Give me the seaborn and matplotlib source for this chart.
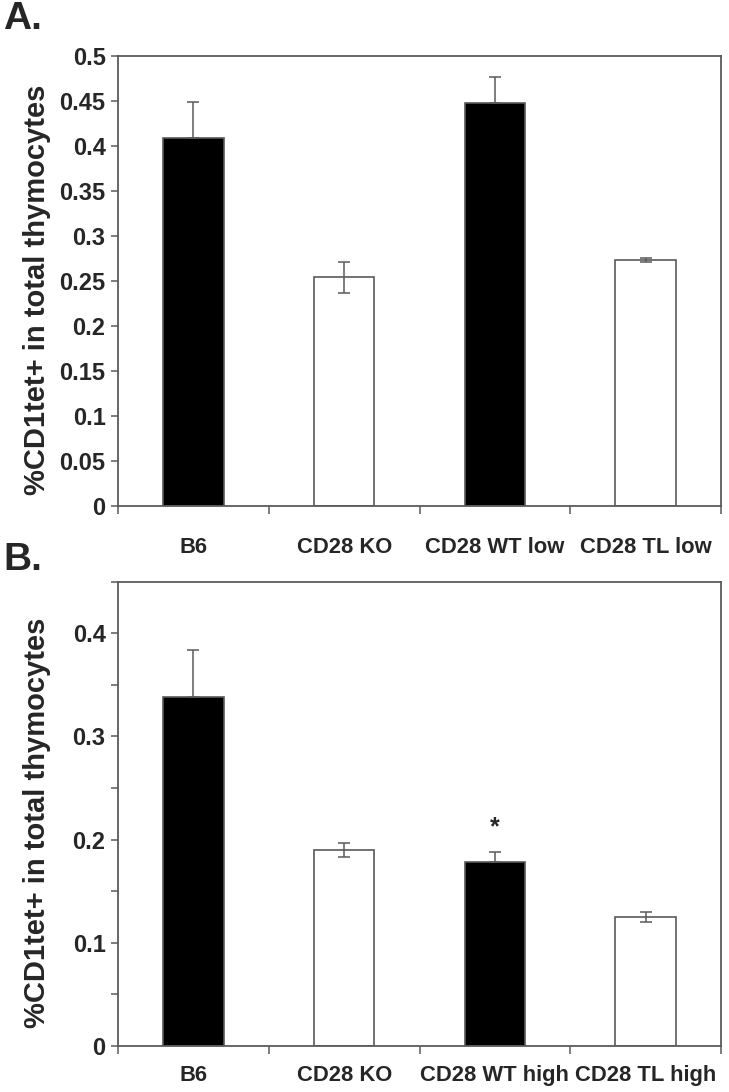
import numpy as np
import pandas as pd
import matplotlib
matplotlib.use("Agg")
import matplotlib.pyplot as plt
import seaborn as sns
from matplotlib.ticker import MultipleLocator, FuncFormatter

# values
groups_a = ["B6", "CD28 KO", "CD28 WT low", "CD28 TL low"]
values_a = [0.408, 0.254, 0.447, 0.273]
errors_a = [0.040, 0.017, 0.029, 0.002]

groups_b = ["B6", "CD28 KO", "CD28 WT high", "CD28 TL high"]
values_b = [0.338, 0.190, 0.178, 0.125]
errors_b = [0.046, 0.007, 0.010, 0.005]

bar_colors = ["black", "white", "black", "white"]
ylabel = "%CD1tet+ in total thymocytes"

sns.set_style("white")
plt.rcParams["font.family"] = ["Liberation Sans", "DejaVu Sans"]
plt.rcParams["font.weight"] = "bold"

edge = "#5a5a5a"


def draw_panel(ax, groups, values, errors, ymax, major, minor=None, label_pad=22):
    df = pd.DataFrame({"group": groups, "value": values})
    sns.barplot(data=df, x="group", y="value", hue="group", palette=bar_colors,
                width=0.4, edgecolor=edge, linewidth=1.2, saturation=1,
                legend=False, ax=ax)
    # black bars hide the lower half of their error bar
    lower = [0 if c == "black" else e for c, e in zip(bar_colors, errors)]
    ax.errorbar(range(len(groups)), values, yerr=[lower, errors], fmt="none",
                ecolor=edge, elinewidth=1.1, capsize=4.5, capthick=1.1, zorder=5)

    ax.set_xlim(-0.5, len(groups) - 0.5)
    ax.set_ylim(0, ymax)
    ax.set_xticks(np.arange(len(groups) + 1) - 0.5)
    ax.set_xticklabels([])
    ax.set_xticks(range(len(groups)), minor=True)
    ax.set_xticklabels(groups, minor=True, fontsize=15.8, fontweight="bold")
    ax.tick_params(axis="x", which="major", direction="out", length=6,
                   width=1.1, color=edge, bottom=True)
    ax.tick_params(axis="x", which="minor", length=0, pad=label_pad)

    ax.yaxis.set_major_locator(MultipleLocator(major))
    if minor:
        ax.yaxis.set_minor_locator(MultipleLocator(minor))
    ax.yaxis.set_major_formatter(FuncFormatter(lambda v, p: f"{v:g}"))
    ax.tick_params(axis="y", which="both", direction="out", length=5,
                   width=1.1, color=edge, left=True, labelsize=17, pad=4)
    for lab in ax.get_yticklabels():
        lab.set_fontweight("bold")

    ax.set_xlabel("")
    ax.set_ylabel(ylabel, fontsize=21, fontweight="bold")
    ax.yaxis.set_label_coords(-0.112, 0.48)
    for sp in ax.spines.values():
        sp.set_color(edge)
        sp.set_linewidth(1.3)
        sp.set_visible(True)


fig = plt.figure(figsize=(7.29, 10.92), dpi=100)
ax_a = fig.add_axes([0.162, 0.5366, 0.827, 0.4125])
ax_b = fig.add_axes([0.162, 0.0421, 0.827, 0.4252])

draw_panel(ax_a, groups_a, values_a, errors_a, 0.5, 0.05, label_pad=22)
draw_panel(ax_b, groups_b, values_b, errors_b, 0.45, 0.1, 0.05, label_pad=14)

# significance mark over CD28 WT high
ax_b.text(2, values_b[2] + errors_b[2] + 0.024, "*", ha="center", va="center",
          fontsize=18, fontweight="bold")

fig.text(0.004, 0.983, "A.", fontsize=28, fontweight="bold", va="center")
fig.text(0.004, 0.487, "B.", fontsize=28, fontweight="bold", va="center")

fig.savefig("out.png", dpi=100)
